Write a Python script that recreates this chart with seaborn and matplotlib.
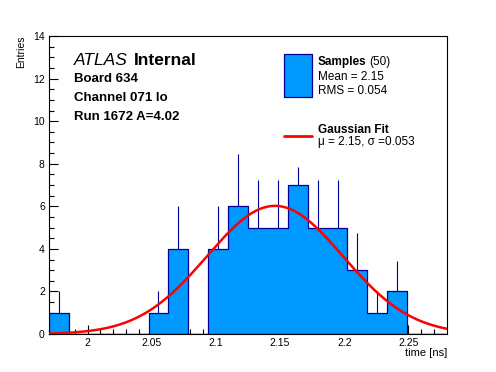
import numpy as np
import pandas as pd
import matplotlib
matplotlib.use("Agg")
import matplotlib.pyplot as plt
import seaborn as sns
from matplotlib.patches import Rectangle
from matplotlib.lines import Line2D

# histogram: 20 bins from 1.97 to 2.28 ns
bin_lo, bin_hi, n_bins = 1.97, 2.28, 20
counts = [1, 0, 0, 0, 0, 1, 4, 0, 4, 6, 5, 5, 7, 5, 5, 3, 1, 2, 0, 0]
# upper error lengths as drawn
errors = [1.0, 0, 0, 0, 0, 1.0, 2.0, 0, 2.0, 2.45, 2.24, 2.24, 0.86, 2.24, 2.24, 1.73, 1.0, 1.41, 0, 0]

# gaussian fit parameters
fit_amp, fit_mu, fit_sigma = 6.02, 2.146, 0.053

W, H = 496, 372
sns.set_style("white")
plt.rcParams["font.family"] = ["Liberation Sans", "DejaVu Sans"]
plt.rcParams.update({"text.color": "black", "axes.labelcolor": "black",
                     "xtick.color": "black", "ytick.color": "black"})

edges = np.linspace(bin_lo, bin_hi, n_bins + 1)
centers = 0.5 * (edges[:-1] + edges[1:])
df = pd.DataFrame({"time": centers, "n": counts, "err": errors})

fig = plt.figure(figsize=(W / 100, H / 100), dpi=100)
ax = fig.add_axes([49 / W, 1 - 334 / H, 398 / W, 298 / H])

# error bars (upper part only visible above filled bars)
nz = df[df["n"] > 0]
ax.vlines(nz["time"], nz["n"], nz["n"] + nz["err"], color="#000099", lw=0.8, zorder=1)

sns.histplot(data=df, x="time", weights="n", bins=list(edges), element="step", fill=True,
             color="#0099ff", alpha=1, edgecolor="#000099", linewidth=0.9, ax=ax, zorder=2)

xs = np.linspace(bin_lo, bin_hi, 300)
ax.plot(xs, fit_amp * np.exp(-0.5 * ((xs - fit_mu) / fit_sigma) ** 2), color="#ff0000", lw=1.8, zorder=3)

ax.set_xlim(bin_lo, bin_hi)
ax.set_ylim(0, 14)
ax.set_xticks([2, 2.05, 2.1, 2.15, 2.2, 2.25])
ax.set_xticklabels(["2", "2.05", "2.1", "2.15", "2.2", "2.25"])
ax.set_xticks(np.arange(1.97, 2.28, 0.01), minor=True)
ax.set_yticks(range(0, 15, 2))
ax.set_yticks(np.arange(0, 14.01, 0.5), minor=True)
ax.tick_params(which="both", direction="in", bottom=True, left=True, top=False, right=False,
               labelsize=7.5, pad=3, width=0.8, color="black", labelcolor="black")
ax.tick_params(which="major", length=6.5)
ax.tick_params(which="minor", length=3.3)
for s in ax.spines.values():
    s.set_linewidth(0.8)
    s.set_color("black")

ax.set_xlabel("time [ns]", loc="right", fontsize=8, labelpad=0, color="black")
ax.set_ylabel("Entries", loc="top", fontsize=7.5, labelpad=5, color="black")


def ftext(x, y, s, **kw):
    fig.text(x / W, 1 - y / H, s, va="baseline", color="black", **kw)


ftext(74, 65, "ATLAS", fontsize=12.5, style="italic")
ftext(134, 65, "Internal", fontsize=12.5, weight="bold")
ftext(74, 81.5, "Board 634", fontsize=9.5, weight="bold")
ftext(74, 101, "Channel 071 lo", fontsize=9.5, weight="bold")
ftext(74, 120, "Run 1672 A=4.02", fontsize=9.5, weight="bold")

fig.patches.append(Rectangle((283.5 / W, 1 - 97 / H), 28 / W, 43.5 / H, transform=fig.transFigure,
                             facecolor="#0099ff", edgecolor="#000099", lw=0.9))
ftext(317.5, 65, "Samples", fontsize=8.5, weight="bold")
ftext(369.5, 65, "(50)", fontsize=8.5)
ftext(317.5, 80, "Mean = 2.15", fontsize=8.5)
ftext(317.5, 94, "RMS = 0.054", fontsize=8.5)
fig.lines.append(Line2D([283.5 / W, 311.5 / W], [1 - 136 / H] * 2, transform=fig.transFigure,
                        color="#ff0000", lw=2))
ftext(317.5, 133, "Gaussian Fit", fontsize=8.5, weight="bold")
ftext(317.5, 145, "\u03bc = 2.15, \u03c3 =0.053", fontsize=8.5)

fig.savefig("out.png", dpi=100)
